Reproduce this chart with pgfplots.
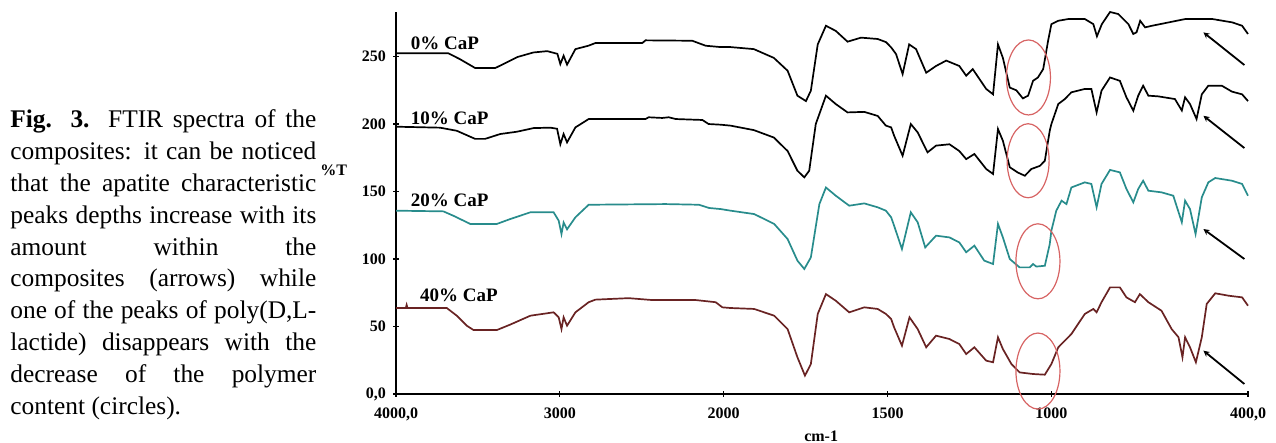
\documentclass[border=0pt]{standalone}
\usepackage{pgfplots}
\pgfplotsset{compat=1.18}
\usetikzlibrary{arrows.meta}
\usepackage{fontspec}
\setmainfont{Liberation Serif}
\definecolor{tealc}{RGB}{40,140,140}
\definecolor{brownc}{RGB}{105,35,35}
\definecolor{ellc}{RGB}{215,100,100}

\pgfplotstableread{
w v
4000 252.4
3994 252.4
3682 252.5
3609 248
3517 241.5
3394 241.5
3345 244.4
3260 249.6
3162 253
3077 254
3015 252
2997 244.4
2977 250.6
2956 244
2905 255.5
2826 258
2783 260
2497 260
2477 262
2192 261.7
2110 258
2018 257
1979 257
1908 255.5
1847 249
1805 239.5
1775 221
1749 217
1734 224.7
1713 259
1688 272.8
1658 269
1622 261
1581 264
1530 263
1505 260.7
1489 256.8
1474 251.8
1454 237
1434 259
1413 255.5
1382 238
1352 243
1321 247
1281 243
1260 235.8
1240 240.7
1199 226
1178 222
1163 259
1148 249
1127 227
1107 225
1087 219
1071 221
1056 232
1041 234.5
1025 240.7
1010 261.7
1000 274
979 276.5
948 277.8
898 277.8
872 274
861 265
846 274
821 283
796 281.5
765 274
750 266.7
740 268
729 276.5
714 271.6
693 272.8
591 277.8
509 277.8
448 275.3
418 272.8
400 266.7
}\tzero

\pgfplotstableread{
w v
4000 198
3994 198
3731 197.3
3629 195
3517 189
3456 189
3364 192.6
3262 194.3
3160 197
3058 197.3
3017 196.5
2997 185
2977 192.6
2956 186.4
2905 197.5
2824 203.7
2477 203.7
2458 205
2375 204.5
2336 205
2293 203.7
2130 203
2092 200
2018 199.5
1979 198.8
1908 195.5
1847 190
1805 180
1775 165.4
1754 160.5
1739 165.4
1719 200
1688 221
1658 214.8
1622 208.6
1571 209
1530 206
1505 198.8
1489 197.5
1480 191.4
1454 176.5
1429 200
1408 193.8
1378 179
1352 184
1311 185
1281 180
1260 174
1235 177.8
1199 166.7
1178 163
1163 196.3
1148 187.6
1127 168
1102 164
1081 161.7
1061 166.7
1035 169
1020 172.8
1005 195
1000 200
979 214.8
959 218.5
939 223.5
898 226
878 226
862 208.6
847 224.7
821 234.5
791 232
771 219.8
750 209.9
735 221
720 228.4
704 221
674 220.5
623 218.5
602 210
592 219.8
577 214.8
557 203.7
541 222
521 228.4
480 228.4
449 224
418 222
400 217
}\tten

\pgfplotstableread{
w v
4000 135.8
3994 135.8
3711 135.3
3649 132
3547 126
3384 126
3303 129.6
3180 134.6
3038 134.6
3007 128.4
2990 118.5
2977 127
2956 122
2905 130.9
2824 140.2
2355 140.7
2151 140.2
2089 137.8
2018 137
1979 135.8
1907 133.3
1846 126
1805 114.8
1775 98.8
1754 92.6
1734 101.2
1708 140.7
1688 153
1658 146.9
1617 139.5
1571 141.2
1530 138.3
1505 135.8
1489 130.9
1480 124.7
1456 107.4
1429 134.6
1408 127.2
1385 108.6
1352 117.3
1311 116
1281 112.3
1260 105
1235 109.9
1205 98.8
1178 96.3
1163 126
1148 116
1127 100
1097 93.8
1066 93.8
1056 96.3
1046 94.4
1020 95
1005 111
1000 121
985 135.8
969 143.2
954 140.7
939 153
898 156.8
878 155.6
862 138.3
847 155.6
821 166
791 164.2
771 151.9
750 142
735 151.9
720 158
704 150.6
664 149.4
628 146.9
602 127.2
592 143.2
577 137
560 118.5
541 145.7
521 156.8
500 160
449 158
418 155.6
400 146.9
}\ttwenty

\pgfplotstableread{
w v
4000 63.7
3994 63.7
3940 63.7
3935 66
3930 63.7
3690 63.7
3629 58
3568 50.6
3527 47.4
3384 47.4
3303 51.4
3180 58
3038 60.5
3007 56.8
2990 48.1
2977 56.8
2956 50.6
2905 60.5
2824 68
2783 69.9
2580 71
2437 69.6
2171 69.6
2049 68
2008 64.2
1979 63.7
1907 63
1846 58
1805 48.1
1775 27.2
1752 13.6
1734 22.2
1713 59.3
1688 74
1658 69.1
1617 60.5
1571 64.2
1530 63
1505 59.3
1489 55.6
1480 49.4
1456 35.8
1433 56.8
1408 48.1
1382 34.6
1352 43.2
1311 40.7
1281 37
1260 29.6
1235 34.6
1199 24.7
1178 23.5
1163 42
1148 33.3
1122 22.2
1097 16
1056 14.8
1020 14.3
1000 22.2
979 34.6
959 39.5
939 44.4
898 59.3
872 63
862 60.5
847 68
821 79
791 79
771 71.6
745 68
730 74
704 68
664 61.7
633 48.1
612 42
600 27.2
592 42
577 34.6
559 23.5
541 42
526 66.7
500 74.6
459 72.8
418 71.6
400 65.4
}\tforty

\begin{document}
\begin{tikzpicture}
\path[use as bounding box] (0,0) rectangle (638pt,221.5pt);
\node[anchor=base west, text width=153pt, align=justify, inner sep=0pt,
      font=\fontsize{12.7}{15.9}\selectfont] at (5pt,157.5pt)
 {\textbf{Fig. 3.} FTIR spectra of the\linebreak composites: it can be noticed\linebreak that the apatite characteristic\linebreak peaks depths increase with its\linebreak amount within the\linebreak composites (arrows) while\linebreak one of the peaks of poly(D,L-\linebreak lactide) disappears with the\linebreak decrease of the polymer\linebreak content (circles).};
\begin{axis}[
  at={(198pt,24.5pt)}, anchor=south west,
  scale only axis, width=426pt, height=191pt,
  xmin=0, xmax=2600, ymin=0, ymax=283,
  axis lines=left, axis line style={-, line width=0.9pt},
  x filter/.expression={x>=2000 ? (4000-x)/2 : 3000-x},
  xtick={0,500,1000,1500,2000,2600},
  xticklabels={{4000,0},3000,2000,1500,1000,{400,0}},
  ytick={0,50,100,150,200,250},
  yticklabels={{0,0},50,100,150,200,250},
  tick style={black, line width=0.6pt}, major tick length=3pt, tick align=center,
  ticklabel style={font=\bfseries\fontsize{8}{9}\selectfont},
  xticklabel style={yshift=-2pt},
  clip=false,
]
\addplot[black, line width=0.85pt] table[x=w,y=v] {\tzero};
\addplot[black, line width=0.85pt] table[x=w,y=v] {\tten};
\addplot[tealc, line width=0.85pt] table[x=w,y=v] {\ttwenty};
\addplot[brownc, line width=0.85pt] table[x=w,y=v] {\tforty};

\node[anchor=west, font=\bfseries\fontsize{9.5}{11}\selectfont] at (axis cs:24,260) {0\% CaP};
\node[anchor=west, font=\bfseries\fontsize{9.5}{11}\selectfont] at (axis cs:24,204.4) {10\% CaP};
\node[anchor=west, font=\bfseries\fontsize{9.5}{11}\selectfont] at (axis cs:24,143.7) {20\% CaP};
\node[anchor=west, font=\bfseries\fontsize{9.5}{11}\selectfont] at (axis cs:52,73.3) {40\% CaP};

\draw[ellc, line width=0.6pt] (axis cs:1930,234.5) ellipse [x radius=11pt, y radius=18.75pt];
\draw[ellc, line width=0.6pt] (axis cs:1929,172.8) ellipse [x radius=10.5pt, y radius=18.5pt];
\draw[ellc, line width=0.6pt] (axis cs:1959,98.3) ellipse [x radius=11pt, y radius=18.75pt];
\draw[ellc, line width=0.6pt] (axis cs:1959,17) ellipse [x radius=11pt, y radius=19pt];

\draw[black, line width=0.9pt, -{Stealth[length=3pt,width=3pt]}] (axis cs:2589,243.7) -- (axis cs:2464,267.9);
\draw[black, line width=0.9pt, -{Stealth[length=3pt,width=3pt]}] (axis cs:2589,182.2) -- (axis cs:2464,206.1);
\draw[black, line width=0.9pt, -{Stealth[length=3pt,width=3pt]}] (axis cs:2589,100) -- (axis cs:2464,122.2);
\draw[black, line width=0.9pt, -{Stealth[length=3pt,width=3pt]}] (axis cs:2589,7.4) -- (axis cs:2464,32.1);

\node[font=\bfseries\fontsize{8}{9}\selectfont] at (axis description cs:-0.073,0.586) {\%T};
\node[anchor=base, font=\bfseries\fontsize{8}{9}\selectfont] at (axis description cs:0.499,-0.125) {cm-1};
\end{axis}
\end{tikzpicture}
\end{document}
